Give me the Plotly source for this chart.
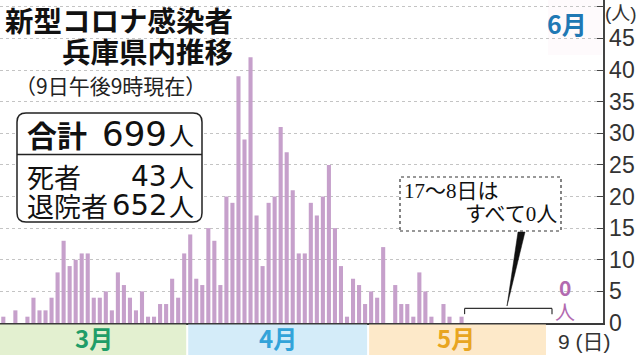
import plotly.graph_objects as go
import pandas as pd

# ---------------- data ----------------
dates = pd.date_range("2020-03-01", "2020-06-09", freq="D")
cases_mar = [1, 0, 2, 0, 1, 4, 2, 2, 4, 8, 13, 9, 10, 11, 11, 4, 4, 5, 2, 8, 6, 4, 2, 5, 1, 1, 3, 3, 7, 4, 11]
cases_apr = [14, 7, 6, 15, 13, 6, 20, 19, 39, 29, 42, 17, 9, 19, 20, 31, 27, 21, 11, 11, 19, 17, 20, 25, 15, 9, 1, 7, 6, 3]
cases_may = [5, 4, 12, 0, 6, 3, 3, 1, 8, 5, 1, 0, 3, 1, 0, 1,
             0, 0, 0, 0, 0, 0, 0, 0, 0, 0, 0, 0, 0, 0, 0]
cases_jun = [0, 0, 0, 0, 0, 0, 0, 0, 0]
values = cases_mar + cases_apr + cases_may + cases_jun

tick_vals = [0, 5, 10, 15, 20, 25, 30, 35, 40, 45, 50]
tick_text = ["0", "5", "10", "15", "20", "25", "30", "35", "40", "45", ""]

months = ["3月", "4月", "5月"]
month_colors = ["#1f9d68", "#33a3d9", "#e8a521"]
band_colors = ["#e3f0d0", "#d4ecf9", "#fde9c9"]
band_x0 = ["2020-02-20", "2020-03-31 16:00", "2020-04-30 16:00"]
band_x1 = ["2020-03-31 08:00", "2020-04-30 08:00", "2020-05-30"]
label_x = ["2020-03-16", "2020-04-15 12:00", "2020-05-15"]

# --------------- geometry helpers (pixel -> paper) ---------------
W, H = 639, 355
ML, MR, MT, MB = 0, 36, 0, 32
PW, PH = W - ML - MR, H - MT - MB


def PX(x):
    return (x - ML) / PW


def PY(y):
    return (MT + PH - y) / PH


JP = "Noto Sans CJK JP"
SERIF = "Liberation Serif, Noto Sans CJK JP"
NUM = "DejaVu Sans"

fig = go.Figure(
    go.Bar(
        x=dates,
        y=values,
        marker_color="#c6a0cb",
        marker_line_width=0,
        hoverinfo="skip",
    )
)

annotations = []


def ann(text, x, y, size, color="#111", xanchor="left", yanchor="middle",
        family=JP, weight="normal"):
    annotations.append(dict(
        text=text, x=PX(x), y=PY(y),
        xref="paper", yref="paper", xanchor=xanchor, yanchor=yanchor,
        showarrow=False, borderpad=0,
        font=dict(family=family, size=size, color=color, weight=weight),
    ))


# titles
ann("新型コロナ感染者", 234, 19, 28.5, weight="bold", xanchor="right")
ann("兵庫県内推移", 234, 50, 28.5, weight="bold", xanchor="right")
ann("（9日午後9時現在）", 14, 85, 21, color="#222")

# summary box text
ann("合計", 26, 134, 30, weight="bold")
ann("699", 168, 134, 34, xanchor="right", family=NUM)
ann("人", 195, 134, 25, xanchor="right")
ann("死者", 26, 176, 27)
ann("43", 168, 176, 28, xanchor="right", family=NUM)
ann("人", 195, 176, 25, xanchor="right")
ann("退院者", 26, 205, 27)
ann("652", 168, 205, 29, xanchor="right", family=NUM)
ann("人", 195, 205, 25, xanchor="right")

# callout text
ann("17〜8日は", 403, 191, 21, family=SERIF)
ann("すべて0人", 558, 214, 21, family=SERIF, xanchor="right")

# June label and axis units
ann("6月", 567, 23, 25, color="#1f78b4", weight="bold", xanchor="center")
ann("(人)", 621, 13, 19, color="#333", xanchor="center", family="Liberation Sans, Noto Sans CJK JP")

# month labels in bands
for m, c, lx in zip(months, month_colors, label_x):
    annotations.append(dict(
        text=m, x=lx, xref="x", y=PY(337.5), yref="paper",
        xanchor="center", yanchor="middle", showarrow=False, borderpad=0,
        font=dict(family=JP, size=24, color=c, weight="bold"),
    ))

# "9 (日)" under June 9
annotations.append(dict(
    text="9 (日)", x="2020-06-09", xref="x", y=PY(341), yref="paper",
    xanchor="left", yanchor="middle", xshift=-7, showarrow=False, borderpad=0,
    font=dict(family="Liberation Sans, Noto Sans CJK JP", size=21, color="#333"),
))
# "0人" vertical purple label at June 9
annotations.append(dict(
    text="0", x="2020-06-09", xref="x", y=PY(287), yref="paper",
    xanchor="center", yanchor="middle", xshift=1, showarrow=False, borderpad=0,
    font=dict(family="Noto Sans CJK JP", size=21, color="#b26ab0", weight="bold"),
))
annotations.append(dict(
    text="人", x="2020-06-09", xref="x", y=PY(311), yref="paper",
    xanchor="center", yanchor="middle", xshift=1, showarrow=False, borderpad=0,
    font=dict(family="Noto Sans CJK JP", size=20, color="#b26ab0"),
))

shapes = []

# month bands beneath the baseline
for c, x0, x1 in zip(band_colors, band_x0, band_x1):
    shapes.append(dict(type="rect", xref="x", yref="paper", x0=x0, x1=x1,
                       y0=PY(355), y1=PY(324.5), fillcolor=c, line_width=0,
                       layer="above"))

# faint June tint top right
shapes.append(dict(type="rect", xref="paper", yref="paper", x0=PX(548), x1=PX(602),
                   y0=PY(55), y1=PY(0), fillcolor="rgba(250,228,236,0.18)",
                   line_width=0, layer="below"))


def rounded(x0, y0, x1, y1, r):
    pts = [
        ("M", (x0 + r, y0)), ("L", (x1 - r, y0)), ("Q", (x1, y0), (x1, y0 + r)),
        ("L", (x1, y1 - r)), ("Q", (x1, y1), (x1 - r, y1)), ("L", (x0 + r, y1)),
        ("Q", (x0, y1), (x0, y1 - r)), ("L", (x0, y0 + r)), ("Q", (x0, y0), (x0 + r, y0)),
    ]
    s = ""
    for p in pts:
        s += p[0] + " " + " ".join(f"{PX(a):.5f},{PY(b):.5f}" for a, b in p[1:]) + " "
    return s + "Z"


# summary box
shapes.append(dict(type="path", xref="paper", yref="paper",
                   path=rounded(17, 113, 202, 222, 9), fillcolor="white",
                   line=dict(color="#222", width=1.5), layer="above"))
shapes.append(dict(type="line", xref="paper", yref="paper", x0=PX(17), x1=PX(202),
                   y0=PY(154.5), y1=PY(154.5), line=dict(color="#222", width=1.3),
                   layer="above"))

# callout box (dotted)
shapes.append(dict(type="rect", xref="paper", yref="paper", x0=PX(400), x1=PX(561),
                   y0=PY(231), y1=PY(177), fillcolor="white",
                   line=dict(color="#333", width=1.2, dash="dot"), layer="above"))
# pointer wedge
shapes.append(dict(type="path", xref="paper", yref="paper",
                   path=f"M {PX(518):.5f},{PY(232):.5f} L {PX(525):.5f},{PY(232):.5f} "
                        f"L {PX(507):.5f},{PY(306):.5f} Z",
                   fillcolor="#111", line=dict(color="#111", width=0.5), layer="above"))
# bracket over the zero period (May 17 - Jun 8)
br_y_top, br_y_end = 2.3, 1.4
for seg in [
    ("2020-05-16 12:00", br_y_end, "2020-05-16 12:00", br_y_top),
    ("2020-05-16 12:00", br_y_top, "2020-06-07", br_y_top),
    ("2020-06-07", br_y_top, "2020-06-07", br_y_end),
]:
    shapes.append(dict(type="line", xref="x", yref="y", x0=seg[0], y0=seg[1],
                       x1=seg[2], y1=seg[3], line=dict(color="#333", width=1.2),
                       layer="above"))

fig.update_layout(
    width=W, height=H,
    margin=dict(l=ML, r=MR, t=MT, b=MB, pad=0),
    paper_bgcolor="white", plot_bgcolor="white",
    showlegend=False, bargap=0.32,
    annotations=annotations, shapes=shapes,
    xaxis=dict(
        type="date",
        range=["2020-02-29 10:48", "2020-06-15 11:00"],
        rangebreaks=[dict(bounds=["2020-05-30", "2020-06-06"])],
        showticklabels=False, ticks="", showgrid=False, zeroline=False,
        showline=True, linecolor="#3a3a3a", linewidth=2, fixedrange=True,
    ),
    yaxis=dict(
        side="right", range=[0, 51.07],
        tickmode="array", tickvals=tick_vals, ticktext=tick_text,
        ticks="inside", ticklen=6, tickwidth=1, tickcolor="#444",
        showline=True, linecolor="#444", linewidth=1.5,
        showgrid=True, gridcolor="#c4c4c4", griddash="dot", gridwidth=1,
        zeroline=False, fixedrange=True,
        tickfont=dict(family="Liberation Sans", size=23, color="#333"),
    ),
)

fig.write_html("out.html", config={"displayModeBar": False, "staticPlot": True},
               post_script="document.body.style.margin='0';")
